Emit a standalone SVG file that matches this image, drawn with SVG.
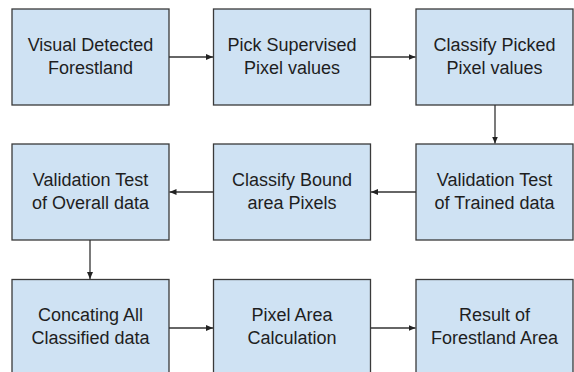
<svg xmlns="http://www.w3.org/2000/svg" width="574" height="372" viewBox="0 0 574 372">
<style>
.box{fill:#cfe2f3;stroke:#3a3a3a;stroke-width:1.3}
.t{font-family:"Liberation Sans",Arial,sans-serif;font-size:18px;fill:#1e1e1e;text-anchor:middle}
.c{stroke:#333;stroke-width:1.3;fill:none;marker-end:url(#ah)}
</style>
<defs>
<marker id="ah" markerWidth="8" markerHeight="8" refX="7" refY="4" orient="auto" markerUnits="userSpaceOnUse">
<path d="M0,1 L7,4 L0,7 Z" fill="#222"/>
</marker>
</defs>
<rect width="574" height="372" fill="#fff"/>
<g id="n1"><rect class="box" x="12" y="9" width="157" height="96"/><text class="t" x="90.5" y="51">Visual Detected</text><text class="t" x="90.5" y="73.5">Forestland</text></g>
<g id="n2"><rect class="box" x="213.5" y="9" width="157" height="96"/><text class="t" x="292" y="51">Pick Supervised</text><text class="t" x="292" y="73.5">Pixel values</text></g>
<g id="n3"><rect class="box" x="416" y="9" width="157" height="96"/><text class="t" x="494.5" y="51">Classify Picked</text><text class="t" x="494.5" y="73.5">Pixel values</text></g>
<g id="n4"><rect class="box" x="416" y="144" width="157" height="96"/><text class="t" x="494.5" y="186">Validation Test</text><text class="t" x="494.5" y="208.5">of Trained data</text></g>
<g id="n5"><rect class="box" x="213.5" y="144" width="157" height="96"/><text class="t" x="292" y="186">Classify Bound</text><text class="t" x="292" y="208.5">area Pixels</text></g>
<g id="n6"><rect class="box" x="12" y="144" width="157" height="96"/><text class="t" x="90.5" y="186">Validation Test</text><text class="t" x="90.5" y="208.5">of Overall data</text></g>
<g id="n7"><rect class="box" x="12" y="279.5" width="157" height="96"/><text class="t" x="90.5" y="321">Concating All</text><text class="t" x="90.5" y="343.5">Classified data</text></g>
<g id="n8"><rect class="box" x="213.5" y="279.5" width="157" height="96"/><text class="t" x="292" y="321">Pixel Area</text><text class="t" x="292" y="343.5">Calculation</text></g>
<g id="n9"><rect class="box" x="416" y="279.5" width="157" height="96"/><text class="t" x="494.5" y="321">Result of</text><text class="t" x="494.5" y="343.5">Forestland Area</text></g>
<g id="connectors">
<path class="c" d="M169,57 H213"/>
<path class="c" d="M370.5,57 H415.5"/>
<path class="c" d="M495,105 V143.5"/>
<path class="c" d="M416,192 H371"/>
<path class="c" d="M213.5,192 H169.5"/>
<path class="c" d="M90,240 V279"/>
<path class="c" d="M169,328 H213"/>
<path class="c" d="M370.5,328 H415.5"/>
</g>
</svg>
